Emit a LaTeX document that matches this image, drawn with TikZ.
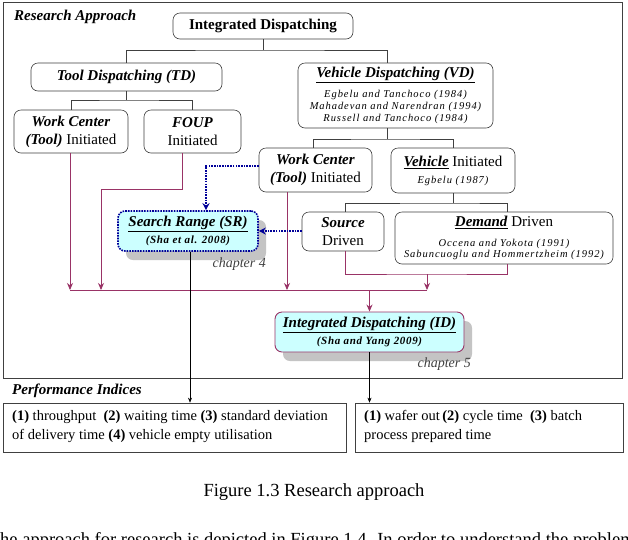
\documentclass[tikz,border=0pt]{standalone}
\usepackage{fontspec}
\setmainfont{Liberation Serif}
\usetikzlibrary{shadows,arrows.meta,calc}
\definecolor{plum}{HTML}{993366}
\definecolor{navyb}{HTML}{000099}
\definecolor{paleC}{HTML}{CCFFFF}
\definecolor{edgec}{HTML}{404040}
\definecolor{shadc}{HTML}{C4C4C4}
\newcommand{\citeref}[1]{{\fontsize{10.5}{12}\itshape\addfontfeature{LetterSpace=9}#1}}
\newcommand{\bi}[1]{\textbf{\textit{#1}}}
\begin{document}
\begin{tikzpicture}[x=1pt,y=-1pt,
  rbox/.style={draw=edgec, line width=0.6pt, rounded corners=7pt, inner sep=0pt, align=center, fill=white, font=\fontsize{15}{18}\selectfont},
  conn/.style={draw=edgec, line width=0.6pt},
  pl/.style={draw=plum, line width=0.9pt},
  plarr/.style={pl, -{Stealth[length=7pt,width=6pt]}},
  bl/.style={draw=navyb, line width=1.6pt, dash pattern=on 1.6pt off 1.1pt, -{Stealth[length=7pt,width=7pt]}},
  blk/.style={draw=black, line width=0.5pt, -{Stealth[length=5pt,width=4pt]}},
  hl/.style={rbox, fill=paleC, drop shadow={shadow xshift=8pt, shadow yshift=-9pt, fill=shadc, opacity=1}},
  lbl/.style={font=\fontsize{15}{18}\bfseries\itshape\selectfont, inner sep=0pt},
  chap/.style={font=\fontsize{14}{16}\itshape\selectfont, text=black!75, inner sep=0pt},
  perf/.style={draw=edgec, line width=0.7pt, inner sep=0pt}
]
\useasboundingbox (0,0) rectangle (628,539);
\fill[white] (0,0) rectangle (628,539);

% outer frame
\draw[edgec, line width=0.8pt] (3,2) rectangle (622,378);
\node[lbl, anchor=base west] (ra) at (14,20) {Research Approach};
\node[lbl, anchor=base west] (pi) at (12,394) {Performance Indices};

% tree nodes
\node[rbox, minimum width=180pt, minimum height=26pt] (ID0) at (263,26) {\textbf{Integrated Dispatching}};
\node[rbox, minimum width=191pt, minimum height=28pt] (TD) at (126.5,77) {\bi{Tool Dispatching (TD)}};
\node[rbox, minimum width=195pt, minimum height=65pt] (VD) at (395.5,95.5) {\underline{\bi{Vehicle Dispatching (VD)}}\\[2pt]\citeref{Egbelu and Tanchoco (1984)}\\[-6pt]\citeref{Mahadevan and Narendran (1994)}\\[-6pt]\citeref{Russell and Tanchoco (1984)}};
\node[rbox, minimum width=114pt, minimum height=43pt] (WC1) at (71,131.5) {\bi{Work Center}\\\bi{(Tool)} Initiated};
\node[rbox, minimum width=97pt, minimum height=43pt] (FOUP) at (192.5,131.5) {\bi{FOUP}\\Initiated};
\node[rbox, minimum width=113pt, minimum height=44pt] (WC2) at (315.5,170) {\bi{Work Center}\\\bi{(Tool)} Initiated};
\node[rbox, minimum width=124pt, minimum height=45pt] (VI) at (453,170.5) {\underline{\bi{Vehicle}} Initiated\\[-1pt]\citeref{Egbelu (1987)}};
\node[rbox, minimum width=82pt, minimum height=39pt] (Src) at (343,231.5) {\bi{Source}\\Driven};
\node[rbox, minimum width=218pt, minimum height=52pt] (Dem) at (504,238) {\underline{\bi{Demand}} Driven\\[2pt]\citeref{Occena and Yokota (1991)}\\[-7pt]\citeref{Sabuncuoglu and Hommertzheim (1992)}};

% highlighted nodes
\node[hl, draw=navyb, line width=1.6pt, dash pattern=on 1.6pt off 1.1pt, minimum width=140pt, minimum height=40pt] (SR) at (188,231) {\underline{\bi{Search Range (SR)}}\\[-1pt]{\fontsize{11}{13}\bfseries\itshape\addfontfeature{LetterSpace=6}(Sha et al. 2008)}};
\node[hl, draw=plum, line width=0.9pt, minimum width=189pt, minimum height=40pt] (IDn) at (369.5,332) {\underline{\bi{Integrated Dispatching (ID)}}\\[-1pt]{\fontsize{11}{13}\bfseries\itshape\addfontfeature{LetterSpace=6}(Sha and Yang 2009)}};
\node[chap, anchor=base east] (c4) at (266,267) {chapter 4};
\node[chap, anchor=base east] (c5) at (471,367) {chapter 5};

% tree connectors
\coordinate (j0) at (263,50);
\draw[conn] (ID0.south) -- (j0);
\draw[conn] (TD.north) |- (j0) -| ($(VD.north)+(-8,0)$);
\coordinate (j1) at (126.5,100);
\draw[conn] (TD.south) -- (j1);
\draw[conn] (WC1.north) |- (j1) -| (FOUP.north);
\coordinate (j2) at (387.5,139);
\draw[conn] ($(VD.south)+(-8,0)$) -- (j2);
\draw[conn] ($(WC2.north)+(-2.5,0)$) |- (j2) -| (VI.north);
\coordinate (j3) at (453,203);
\draw[conn] (VI.south) -- (j3);
\draw[conn] ($(Src.north)+(2,0)$) |- (j3) -| ($(Dem.north)+(3,0)$);

% performance boxes
\node[perf, minimum width=343pt, minimum height=49pt] (PL) at (174.5,427.5) {};
\node[perf, minimum width=268pt, minimum height=49pt] (PR) at (489,427.5) {};
\node[anchor=north west, align=left, inner sep=0pt, font=\fontsize{14.5}{19}\selectfont] (tl) at (12,410) {\textbf{(1)} throughput~ \textbf{(2)} waiting time \textbf{(3)} standard deviation\\of delivery time \textbf{(4)} vehicle empty utilisation};
\node[anchor=north west, align=left, inner sep=0pt, font=\fontsize{14.5}{19}\selectfont] (tr) at (364,410) {\textbf{(1)} wafer out\,\textbf{(2)} cycle time~ \textbf{(3)} batch\\process prepared time};

% magenta bus
\coordinate (b1) at (70,290);
\coordinate (b2) at (101,290);
\coordinate (b3) at (287,290);
\coordinate (b4) at (369.5,290);
\coordinate (b5) at (427,290);
\coordinate (m1) at (427,274);
\draw[pl] (b1) -- (b5);
\draw[plarr] ($(WC1.south)+(-1,0)$) -- (b1);
\draw[plarr] ($(FOUP.south)+(-10,0)$) |- (101,189) -- (b2);
\draw[plarr] ($(WC2.south)+(-28.5,0)$) -- (b3);
\draw[pl] ($(Src.south)+(2,0)$) |- (m1) -| ($(Dem.south)+(3,0)$);
\draw[plarr] (m1) -- (b5);
\draw[plarr] (b4) -- (IDn.north);

% blue dotted arrows
\draw[bl] (WC2.west |- 0,166) -| ($(SR.north)+(18,0)$);
\draw[bl] (Src.west |- SR.east) -- (SR.east);

% black arrows to performance boxes
\draw[blk] ($(SR.south)+(2,0)$) -- ($(PL.north)+(15.5,0)$);
\draw[blk] (IDn.south) -- (IDn.south |- PR.north);

% caption and cut text line
\node[font=\fontsize{18.5}{22}\selectfont, inner sep=0pt, anchor=base] (cap) at (314,496) {Figure 1.3 Research approach};
\begin{scope}
\clip (0,0) rectangle (628,539);
\node[font=\fontsize{18.5}{22}\selectfont, inner sep=0pt, anchor=base west] (cut) at (0,545) {he approach for research is depicted in Figure 1.4. In order to understand the problem in it};
\end{scope}
\end{tikzpicture}
\end{document}
